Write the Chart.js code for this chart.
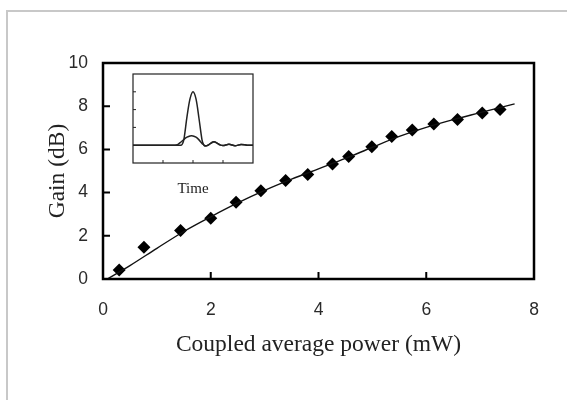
<!DOCTYPE html>
<html>
<head>
<meta charset="utf-8">
<script src="https://cdn.jsdelivr.net/npm/chart.js@4.4.1/dist/chart.umd.min.js"></script>
<style>
  body { margin: 0; background: #fff; }
  #wrap { position: relative; width: 567px; height: 400px; overflow: hidden; background: #fff; }
  #frame { position: absolute; left: 6px; top: 10px; right: -4px; bottom: -4px;
           border-left: 2px solid #c8c8c8; border-top: 2px solid #c8c8c8; }
  #gainChart { position: absolute; left: 0; top: 0; }
  #insetChart { position: absolute; left: 128px; top: 70px; }
</style>
</head>
<body>
<div id="wrap">
  <div id="frame"></div>
  <canvas id="gainChart" width="567" height="400"></canvas>
  <canvas id="insetChart" width="135" height="130"></canvas>
</div>
<script>
// measured gain vs coupled power
const powerMw = [0.30, 0.76, 1.44, 2.00, 2.47, 2.93, 3.39, 3.80, 4.26, 4.56, 4.99, 5.36, 5.74, 6.14, 6.58, 7.04, 7.37];
const gainDb = [0.42, 1.47, 2.25, 2.81, 3.55, 4.08, 4.56, 4.84, 5.32, 5.67, 6.12, 6.60, 6.90, 7.18, 7.38, 7.69, 7.85];

// fitted curve
const fitPower = [0.08, 0.5, 1.0, 1.5, 2.0, 2.5, 3.0, 3.5, 4.0, 4.5, 5.0, 5.5, 6.0, 6.5, 7.0, 7.64];
const fitGain = [0, 0.62, 1.42, 2.2, 2.88, 3.52, 4.1, 4.62, 5.1, 5.58, 6.1, 6.6, 7.02, 7.38, 7.7, 8.11];

// inset: pulse traces vs time
const insetTime = [0, 0.5, 1.0, 1.4, 1.5, 1.6, 1.65, 1.7, 1.8, 1.9, 2.0, 2.1, 2.2, 2.3, 2.35, 2.4, 2.5, 2.6, 2.7, 2.8, 2.9, 3.0, 3.2, 3.4, 3.6, 3.8, 4.0];
const pulseAmplified = [1, 1, 1, 1, 1, 1, 1.08, 1.35, 2.6, 3.6, 4.0, 3.6, 2.5, 1.3, 1.05, 0.95, 1.0, 1.12, 1.2, 1.12, 1.02, 0.98, 1.05, 0.97, 1.04, 1.0, 1.0];
const pulseInput = [1, 1, 1, 1, 1.05, 1.18, 1.25, 1.33, 1.45, 1.52, 1.52, 1.45, 1.3, 1.1, 1.03, 0.97, 1.0, 1.12, 1.2, 1.12, 1.02, 0.98, 1.05, 0.97, 1.04, 1.0, 1.0];
const insetXTicks = [1, 2, 3];
const insetYTicks = [2, 3, 4];

const toPoints = (xs, ys) => xs.map((x, i) => ({ x: x, y: ys[i] }));

// box around the plot area with ticks pointing inward
const boxTicks = {
  id: "boxTicks",
  afterDatasetsDraw(chart, args, opts) {
    const { ctx, chartArea: a, scales } = chart;
    const xTicks = opts.xTicks || scales.x.ticks.map((t) => t.value);
    const yTicks = opts.yTicks || scales.y.ticks.map((t) => t.value);
    ctx.save();
    ctx.strokeStyle = opts.color;
    ctx.lineWidth = opts.tickWidth;
    ctx.beginPath();
    xTicks.forEach((v) => {
      const px = scales.x.getPixelForValue(v);
      ctx.moveTo(px, a.bottom);
      ctx.lineTo(px, a.bottom - opts.len);
    });
    yTicks.forEach((v) => {
      const py = scales.y.getPixelForValue(v);
      ctx.moveTo(a.left, py);
      ctx.lineTo(a.left + opts.len, py);
    });
    ctx.stroke();
    ctx.lineWidth = opts.frameWidth;
    ctx.strokeRect(a.left, a.top, a.right - a.left, a.bottom - a.top);
    ctx.restore();
  },
};

const tickFont = { family: "'Liberation Sans', Arial, sans-serif", size: 17.5 };
const titleFont = { family: "'Liberation Serif', 'Times New Roman', serif", size: 23.5, lineHeight: 1.2 };

new Chart(document.getElementById("gainChart"), {
  type: "scatter",
  data: {
    datasets: [
      {
        label: "Fit",
        data: toPoints(fitPower, fitGain),
        showLine: true,
        borderColor: "#111",
        borderWidth: 1.4,
        pointRadius: 0,
        cubicInterpolationMode: "monotone",
      },
      {
        label: "Measured",
        data: toPoints(powerMw, gainDb),
        pointStyle: "rectRot",
        pointRadius: 6.5,
        backgroundColor: "#000",
        borderColor: "#000",
        borderWidth: 0,
      },
    ],
  },
  options: {
    responsive: false,
    animation: false,
    layout: { padding: { left: 0, top: 63, right: 33, bottom: 0 } },
    plugins: {
      legend: { display: false },
      tooltip: { enabled: false },
      boxTicks: { color: "#000", len: 7, tickWidth: 2, frameWidth: 2.5 },
    },
    scales: {
      x: {
        type: "linear",
        min: 0,
        max: 8,
        ticks: { stepSize: 2, padding: 21, font: tickFont, color: "#2a2a2a" },
        grid: { display: false, drawTicks: false },
        border: { display: false },
        title: {
          display: true,
          text: "Coupled average power (mW)",
          font: titleFont,
          color: "#222",
          padding: { top: 0, bottom: 41 },
        },
        afterFit(scale) {
          scale.height = 121;
        },
      },
      y: {
        min: 0,
        max: 10,
        ticks: { stepSize: 2, padding: 15, font: tickFont, color: "#2a2a2a" },
        grid: { display: false, drawTicks: false },
        border: { display: false },
        title: {
          display: true,
          text: "Gain (dB)",
          font: titleFont,
          color: "#222",
          padding: { top: 44, bottom: 0 },
        },
        afterFit(scale) {
          scale.width = 103;
        },
      },
    },
  },
  plugins: [boxTicks],
});

new Chart(document.getElementById("insetChart"), {
  type: "scatter",
  data: {
    datasets: [
      {
        label: "Amplified",
        data: toPoints(insetTime, pulseAmplified),
        showLine: true,
        borderColor: "#222",
        borderWidth: 1.5,
        pointRadius: 0,
        tension: 0.3,
      },
      {
        label: "Input",
        data: toPoints(insetTime, pulseInput),
        showLine: true,
        borderColor: "#222",
        borderWidth: 1.5,
        pointRadius: 0,
        tension: 0.3,
      },
    ],
  },
  options: {
    responsive: false,
    animation: false,
    layout: { padding: { left: 5, top: 4, right: 10, bottom: 0 } },
    plugins: {
      legend: { display: false },
      tooltip: { enabled: false },
      boxTicks: { color: "#222", len: 3, tickWidth: 1, frameWidth: 1.2, xTicks: insetXTicks, yTicks: insetYTicks },
    },
    scales: {
      x: {
        type: "linear",
        min: 0,
        max: 4,
        ticks: { display: false },
        grid: { display: false, drawTicks: false },
        border: { display: false },
        title: {
          display: true,
          text: "Time",
          font: { family: "'Liberation Serif', 'Times New Roman', serif", size: 15, lineHeight: 1.2 },
          color: "#222",
          padding: { top: 0, bottom: 2 },
        },
        afterFit(scale) {
          scale.height = 37;
        },
      },
      y: {
        min: 0,
        max: 5,
        ticks: { display: false },
        grid: { display: false, drawTicks: false },
        border: { display: false },
        afterFit(scale) {
          scale.width = 0;
        },
      },
    },
  },
  plugins: [boxTicks],
});
</script>
</body>
</html>
